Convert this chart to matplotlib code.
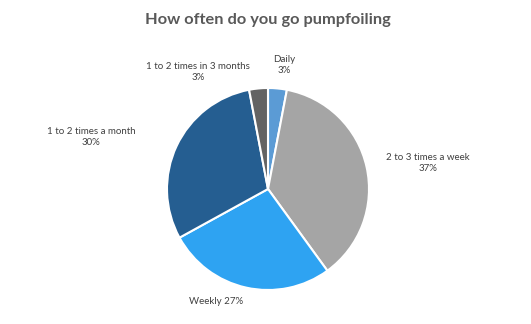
import matplotlib
matplotlib.use("Agg")
import matplotlib.pyplot as plt

categories = ["Daily", "2 to 3 times a week", "Weekly", "1 to 2 times a month",
              "1 to 2 times in 3 months"]
shares = [3, 37, 27, 30, 3]
label_texts = ["Daily\n3%", "2 to 3 times a week\n37%", "Weekly 27%",
               "1 to 2 times a month\n30%", "1 to 2 times in 3 months\n3%"]

colors = ["#5b9bd5", "#a5a5a5", "#2ea3f2", "#255e91", "#636363"]
# label centres in pixel coords (x, y from top)
label_pos = [(284, 65), (428, 163), (216, 301), (91, 137), (198, 72)]

W, H = 531, 324
fig = plt.figure(figsize=(W / 100, H / 100), dpi=100)
ax = fig.add_axes([0, 0, 1, 1])

ax.pie(shares, colors=colors, startangle=90, counterclock=False,
       center=(268, H - 189), radius=101,
       wedgeprops=dict(edgecolor="white", linewidth=1.5))
ax.set_xlim(0, W)
ax.set_ylim(0, H)
ax.set_aspect("equal")
ax.axis("off")

for txt, (x, y) in zip(label_texts, label_pos):
    ax.text(x, H - y, txt, ha="center", va="center", fontsize=7,
            family="Lato", color="#404040", linespacing=1.25)

ax.text(268, H - 20, "How often do you go pumpfoiling", ha="center", va="center",
        fontsize=11.8, fontweight="bold", family="Lato", color="#595959")

fig.savefig("out.png", dpi=100)
